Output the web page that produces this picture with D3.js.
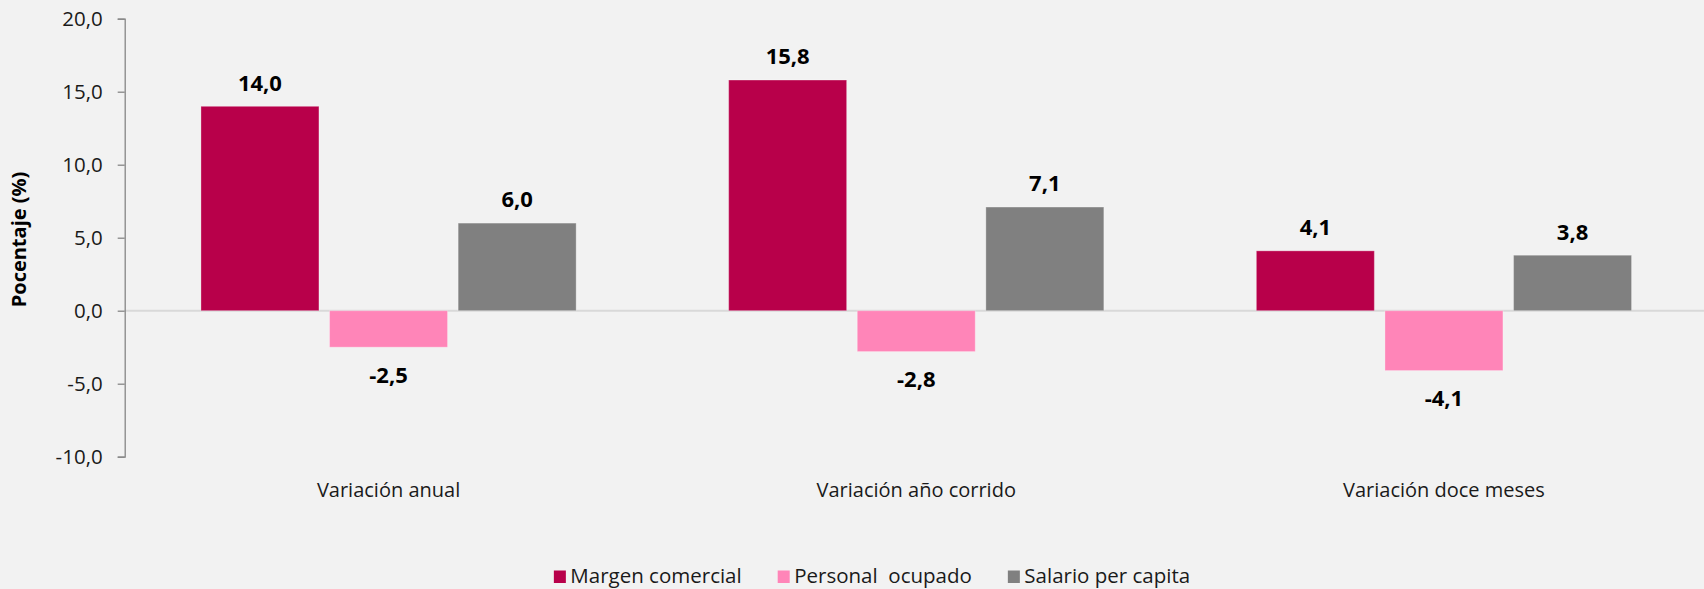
<!DOCTYPE html>
<html>
<head>
<meta charset="utf-8">
<script src="https://cdn.jsdelivr.net/npm/d3@7/dist/d3.min.js"></script>
<style>
  html, body { margin: 0; padding: 0; background: #f2f2f2; }
  svg { display: block; }
  text { font-family: "Open Sans", "Noto Sans", sans-serif; }
</style>
</head>
<body>
<svg id="chart" width="1704" height="589"></svg>
<script>
// Categories and series
const categories = ["Variación anual", "Variación año corrido", "Variación doce meses"];
const seriesNames = ["Margen comercial", "Personal  ocupado", "Salario per capita"];
const margenComercial = [14.0, 15.8, 4.1];
const personalOcupado = [-2.5, -2.8, -4.1];
const salarioPerCapita = [6.0, 7.1, 3.8];
const yTicks = [-10, -5, 0, 5, 10, 15, 20];
const seriesColors = ["#b8004a", "#ff85b8", "#808080"];

const seriesValues = [margenComercial, personalOcupado, salarioPerCapita];

const svg = d3.select("#chart");

const plot = { left: 124.7, right: 1707.8, top: 18.7, bottom: 456.7 };

const y = d3.scaleLinear().domain([-10, 20]).range([plot.bottom, plot.top]);
const x0 = d3.scaleBand().domain(categories).range([plot.left, plot.right]).padding(0);
const x1 = d3.scaleBand().domain(seriesNames)
  .range([0, x0.bandwidth()])
  .paddingInner(0.0825)
  .paddingOuter(0.593);

const fmt = v => d3.format(".1f")(v).replace(".", ",").replace("−", "-");

// Zero line
svg.append("line")
  .attr("x1", plot.left).attr("x2", plot.right)
  .attr("y1", y(0)).attr("y2", y(0))
  .attr("stroke", "#d9d9d9").attr("stroke-width", 2);

// Bars and value labels
const groups = svg.append("g").selectAll("g")
  .data(categories)
  .join("g")
  .attr("transform", d => `translate(${x0(d)},0)`);

groups.each(function(cat, ci) {
  const g = d3.select(this);
  const rows = seriesNames.map((s, si) => ({ s, si, v: seriesValues[si][ci] }));
  g.selectAll("rect")
    .data(rows)
    .join("rect")
    .attr("x", d => x1(d.s))
    .attr("width", x1.bandwidth())
    .attr("y", d => y(Math.max(0, d.v)))
    .attr("height", d => Math.abs(y(d.v) - y(0)))
    .attr("fill", d => seriesColors[d.si])
    .attr("stroke", "#ffffff")
    .attr("stroke-opacity", 0.3)
    .attr("stroke-width", 1);

  g.selectAll("text.val")
    .data(rows)
    .join("text")
    .attr("class", "val")
    .attr("x", d => x1(d.s) + x1.bandwidth() / 2)
    .attr("y", d => d.v >= 0 ? y(d.v) - 15.7 : y(d.v) + 35.5)
    .attr("text-anchor", "middle")
    .attr("font-size", 22)
    .attr("font-weight", 700)
    .attr("fill", "#000")
    .text(d => fmt(d.v));
});

// Y axis
const yAxis = d3.axisLeft(y).tickValues(yTicks).tickSize(7).tickPadding(15).tickFormat(fmt);
const ya = svg.append("g")
  .attr("transform", `translate(${plot.left},0)`)
  .call(yAxis);
ya.select(".domain").attr("stroke", "#868686").attr("stroke-width", 1.3);
ya.selectAll(".tick line").attr("stroke", "#868686").attr("stroke-width", 1.3);
ya.selectAll(".tick text")
  .attr("font-size", 20.5)
  .attr("fill", "#1a1a1a")
  .attr("font-family", "'Open Sans', 'Noto Sans', sans-serif");

// Y axis title
svg.append("text")
  .attr("transform", `translate(26,239.5) rotate(-90)`)
  .attr("text-anchor", "middle")
  .attr("font-size", 20)
  .attr("font-weight", 700)
  .attr("fill", "#000")
  .text("Pocentaje (%)");

// Category labels
svg.append("g").selectAll("text")
  .data(categories)
  .join("text")
  .attr("x", d => x0(d) + x0.bandwidth() / 2)
  .attr("y", 496.7)
  .attr("text-anchor", "middle")
  .attr("font-size", 20)
  .attr("fill", "#1a1a1a")
  .text(d => d);

// Legend
const legend = svg.append("g");
let lx = 0;
seriesNames.forEach((name, i) => {
  const item = legend.append("g").attr("transform", `translate(${lx},0)`);
  item.append("rect")
    .attr("x", 0).attr("y", -12.5)
    .attr("width", 12).attr("height", 12.5)
    .attr("fill", seriesColors[i]);
  const t = item.append("text")
    .attr("x", 16.5).attr("y", 0)
    .attr("font-size", 20.5)
    .attr("fill", "#1a1a1a")
    .attr("xml:space", "preserve")
    .style("white-space", "pre")
    .text(name);
  lx += 16.5 + t.node().getComputedTextLength() + 36;
});
const legendWidth = lx - 36;
legend.attr("transform", `translate(${872 - legendWidth / 2},583)`);
</script>
</body>
</html>
